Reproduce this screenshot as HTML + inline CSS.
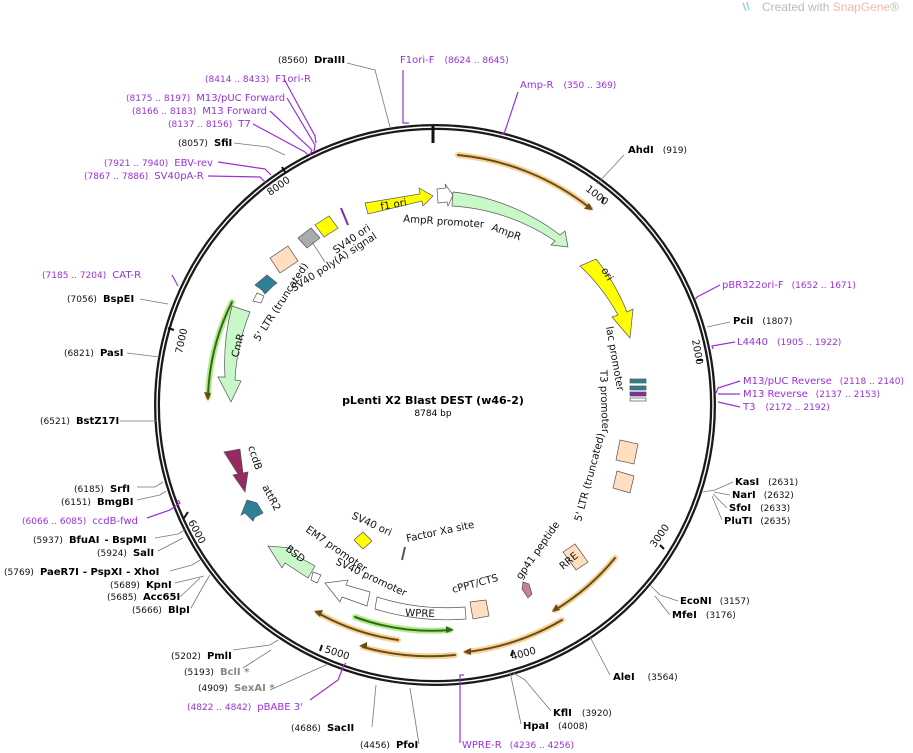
<!DOCTYPE html>
<html><head><meta charset="utf-8"><style>
html,body{margin:0;padding:0;background:#fff;}
svg{display:block;font-family:"DejaVu Sans","Liberation Sans",sans-serif;}
.n{font-size:9px;fill:#111;}
.b{font-size:10px;font-weight:bold;fill:#000;}
.p{font-size:10px;fill:#9b30d9;}
.pn{font-size:9px;fill:#9b30d9;}
.g{font-size:10px;font-weight:bold;fill:#888;}
.f{font-size:10.2px;fill:#111;}
.gl{stroke:#777;stroke-width:0.8;fill:none;}
.pl{stroke:#9b30d9;stroke-width:1.2;fill:none;}
</style></head><body>
<svg width="913" height="753" viewBox="0 0 913 753" xmlns="http://www.w3.org/2000/svg">
<text x="762" y="11" style="font-size:12px;fill:#bbb;font-family:'Liberation Sans',sans-serif">Created with <tspan fill="#f5b8a8">SnapGene</tspan>®</text>
<path d="M743 3 l3 8 M747 2 l2 8" stroke="#9ad4e8" stroke-width="1.5"/>

<circle cx="435" cy="405" r="278" fill="none" stroke="#1a1a1a" stroke-width="6"/>
<circle cx="435" cy="405" r="278" fill="none" stroke="#fff" stroke-width="1.4"/>
<line x1="433" y1="126" x2="433" y2="143" stroke="#111" stroke-width="3"/>

<g class="n" style="font-size:10px">
<line x1="604" y1="197" x2="602" y2="203" stroke="#111" stroke-width="2"/><text transform="translate(585,190) rotate(38)">1000</text>
<line x1="697" y1="360" x2="703" y2="360" stroke="#111" stroke-width="2"/><text transform="translate(692,340) rotate(80)">2000</text>
<line x1="660" y1="545" x2="664" y2="549" stroke="#111" stroke-width="2"/><text transform="translate(655,548) rotate(-55)">3000</text>
<line x1="513" y1="650" x2="511" y2="656" stroke="#111" stroke-width="2"/><text transform="translate(512,660) rotate(-15)">4000</text>
<line x1="322" y1="645" x2="320" y2="651" stroke="#111" stroke-width="2"/><text transform="translate(324,652) rotate(18)">5000</text>
<line x1="188" y1="512" x2="184" y2="518" stroke="#111" stroke-width="2"/><text transform="translate(188,522) rotate(62)">6000</text>
<line x1="174" y1="330" x2="168" y2="328" stroke="#111" stroke-width="2"/><text transform="translate(182,354) rotate(-78)">7000</text>
<line x1="285" y1="172" x2="282" y2="167" stroke="#111" stroke-width="2"/><text transform="translate(270,196) rotate(-35)">8000</text>
</g>

<text x="433" y="404" text-anchor="middle" style="font-size:11px;font-weight:bold">pLenti X2 Blast DEST (w46-2)</text>
<text x="433" y="416" text-anchor="middle" style="font-size:9px">8784 bp</text>

<g fill="none" stroke-linecap="round">
<g stroke="#f5c97a" stroke-width="6" opacity="0.8">
<path d="M458 155 A252 252 0 0 1 590 208"/>
<path d="M615 558 A234 234 0 0 1 555 610"/>
<path d="M562 620 A245 245 0 0 1 467 652"/>
<path d="M455 655 A246 246 0 0 1 363 647"/>
<path d="M398 640 A233 233 0 0 1 318 613"/>
</g>
<g stroke="#6b4a1a" stroke-width="2">
<path d="M458 155 A252 252 0 0 1 590 208"/>
<path d="M615 558 A234 234 0 0 1 555 610"/>
<path d="M562 620 A245 245 0 0 1 467 652"/>
<path d="M455 655 A246 246 0 0 1 363 647"/>
<path d="M398 640 A233 233 0 0 1 318 613"/>
</g>
<path d="M355 617 A221 221 0 0 0 450 630" stroke="#b6eb8c" stroke-width="6"/>
<path d="M355 617 A221 221 0 0 0 450 630" stroke="#2f6b1a" stroke-width="2"/>
<path d="M232 302 A226 226 0 0 0 208 397" stroke="#b6eb8c" stroke-width="6"/>
<path d="M232 302 A226 226 0 0 0 208 397" stroke="#2f6b1a" stroke-width="2"/>
</g>
<g fill="#6b4a1a">
<path d="M593 210 l-9 -1 l5 -6z"/>
<path d="M552 612 l4 -8 l4 6z"/>
<path d="M463 652 l8 -4 l0 7z"/>
<path d="M359 646 l8 -4 l0 7z"/>
<path d="M314 611 l9 -1 l-3 7z"/>
<path d="M208 401 l-4 -9 l7 1z"/>
</g>
<path d="M454 630 l-8 -4 l0 7z" fill="#2f6b1a"/>

<g stroke="#555" stroke-width="0.7">
<path d="M365 203 L420 194 L419 188 L433 196 L423 206 L422 201 L368 214z" fill="#ffff00"/>
<path d="M437 189 L446 188 L445 184 L453 195 L448 206 L447 202 L438 203z" fill="#fff"/>
<path d="M453 192 A215 215 0 0 1 560 235 L565 231 L568 247 L551 245 L555 241 A205 205 0 0 0 452 206z" fill="#c8f7c8"/>
<path d="M596 259 A205 205 0 0 1 627 312 L633 309 L630 338 L612 317 L618 315 A195 195 0 0 0 580 266z" fill="#ffff00"/>
<rect x="630" y="379" width="16" height="4" fill="#2f7f8f"/>
<rect x="630" y="386" width="16" height="4" fill="#2f7f8f"/>
<rect x="630" y="392" width="16" height="4" fill="#7a2fa8"/>
<rect x="630" y="398" width="16" height="3" fill="#fff"/>
<path d="M620 440 l18 4 l-4 20 l-18 -4z" fill="#ffdfc0"/>
<path d="M617 471 l17 5 l-4 17 l-17 -5z" fill="#ffdfc0"/>
<path d="M563 552 l12 -8 l13 18 l-12 8z" fill="#ffdfc0"/>
<path d="M523 582 l6 2 l3 10 l-4 4 l-6 -9z" fill="#c77d9e"/>
<path d="M470 602 l16 -2 l3 16 l-16 3z" fill="#ffdfc0"/>
<path d="M377 597 A230 230 0 0 0 465 607 L466 619 A242 242 0 0 1 375 609z" fill="#fff"/>
<path d="M370 592 L367 606 L342 597 L340 602 L325 583 L348 580 L346 585z" fill="#fff"/>
<path d="M313 572 l8 3 l-4 8 l-6 -3z" fill="#fff"/>
<path d="M315 566 L308 578 L285 563 L282 568 L268 546 L293 548 L290 552z" fill="#c8f7c8"/>
<path d="M247 500 l10 3 l6 10 l-8 4 l-2 4 l-8 -8 l-4 2z" fill="#2e8096"/>
<path d="M224 452 l16 -3 l3 24 l5 -1 l-3 20 l-12 -17 l5 -1z" fill="#962a63"/>
<path d="M354 540 l9 -8 l9 9 l-9 8z" fill="#ffff00"/>
<line x1="405" y1="547" x2="402" y2="560" stroke="#555" stroke-width="2"/>
<path d="M232 306 L250 312 A210 210 0 0 0 235 380 L241 381 L231 402 L218 377 L225 377 A225 225 0 0 1 232 306z" fill="#c8f7c8"/>
<path d="M257 293 l7 3 l-3 7 l-8 -2z" fill="#fff"/>
<path d="M255 285 l12 -10 l10 8 l-4 3 l-8 8 l-3 -4z" fill="#2e8096"/>
<path d="M270 258 l18 -12 l10 15 l-18 12z" fill="#ffdfc0"/>
<path d="M298 238 l13 -10 l9 10 l-13 10z" fill="#a9abb1"/>
<path d="M315 225 l14 -9 l9 12 l-14 9z" fill="#ffff00"/>
<path d="M341 208 l7 17" stroke="#7a2fa8" stroke-width="2"/>
</g>
<g class="f">
<text transform="translate(381,210) rotate(-10)">f1 ori</text>
<text transform="translate(403,222) rotate(4)">AmpR promoter</text>
<text transform="translate(491,230) rotate(20)">AmpR</text>
<text transform="translate(601,270) rotate(60)">ori</text>
<text transform="translate(606,327) rotate(80)">lac promoter</text>
<text transform="translate(600,370) rotate(88)">T3 promoter</text>
<text transform="translate(581,522) rotate(-75)">5' LTR (truncated)</text>
<text transform="translate(563,570) rotate(-40)">RRE</text>
<text transform="translate(521,580) rotate(-55)">gp41 peptide</text>
<text transform="translate(453,593) rotate(-15)">cPPT/CTS</text>
<text transform="translate(405,616) rotate(2)">WPRE</text>
<text transform="translate(335,564) rotate(25)">SV40 promoter</text>
<text transform="translate(305,531) rotate(35)">EM7 promoter</text>
<text transform="translate(285,550) rotate(38)">BSD</text>
<text transform="translate(262,487) rotate(62)">attR2</text>
<text transform="translate(248,447) rotate(72)">ccdB</text>
<text transform="translate(351,518) rotate(25)">SV40 ori</text>
<text transform="translate(407,542) rotate(-12)">Factor Xa site</text>
<text transform="translate(238,358) rotate(-75)">CmR</text>
<text transform="translate(259,342) rotate(-57)">5' LTR (truncated)</text>
<text transform="translate(294,292) rotate(-33)">SV40 poly(A) signal</text>
<text transform="translate(336,254) rotate(-35)">SV40 ori</text>
</g>

<g class="gl">
<path d="M347 63 L375 70 L390 127"/>
<path d="M624 155 L597 184"/>
<path d="M730 322 L707 327"/>
<path d="M733 482 L715 490 L703 492 M730 495 L714 492 M727 508 L713 494 M722 520 L712 496"/>
<path d="M678 601 L660 595 L650 585 M670 615 L655 596"/>
<path d="M610 675 L590 637"/>
<path d="M551 711 L525 680 L512 672 M521 724 L510 672"/>
<path d="M419 744 L410 688"/>
<path d="M372 727 L376 685"/>
<path d="M270 690 L328 664"/>
<path d="M233 650 L270 645 L278 640 M243 668 L271 650"/>
<path d="M191 608 L205 583 L210 575 M180 597 L200 578 M175 583 L204 576 M170 571 L192 565 L200 560"/>
<path d="M158 551 L183 538 M155 538 L178 534 L185 530"/>
<path d="M137 500 L160 495 L166 491 M137 487 L155 487 L163 482"/>
<path d="M120 421 L157 421"/>
<path d="M127 353 L159 357"/>
<path d="M140 299 L168 304"/>
<path d="M234 143 L268 147 L285 155"/>
<path d="M312 242 L325 262"/>
</g>
<g class="pl">
<path d="M403 70 L403 123 L409 123"/>
<path d="M518 92 L504 134 L500 134"/>
<path d="M720 285 L697 297 L695 300"/>
<path d="M735 342 L712 346 L713 349"/>
<path d="M740 381 L718 388 L716 393 M740 394 L718 394 M740 407 L718 402"/>
<path d="M460 743 L460 675 L464 675"/>
<path d="M310 700 L338 680 L344 665 L346 663"/>
<path d="M147 518 L170 510 L180 503 L178 500"/>
<path d="M172 275 L178 286"/>
<path d="M208 176 L260 177 L266 183"/>
<path d="M218 162 L265 169 L271 175"/>
<path d="M253 124 L305 152 L308 155"/>
<path d="M270 111 L312 150 L310 155"/>
<path d="M287 98 L315 145 L314 152"/>
<path d="M284 79 L315 136 L316 143"/>
</g>

<text x="278" y="63"><tspan class="n">(8560)</tspan><tspan class="b" dx="6">DraIII</tspan></text>
<text x="400" y="63"><tspan class="p">F1ori-F</tspan><tspan class="pn" dx="10">(8624 .. 8645)</tspan></text>
<text x="520" y="88"><tspan class="p">Amp-R</tspan><tspan class="pn" dx="10">(350 .. 369)</tspan></text>
<text x="628" y="153"><tspan class="b">AhdI</tspan><tspan class="n" dx="9">(919)</tspan></text>
<text x="722" y="288"><tspan class="p">pBR322ori-F</tspan><tspan class="pn" dx="8">(1652 .. 1671)</tspan></text>
<text x="733" y="324"><tspan class="b">PciI</tspan><tspan class="n" dx="9">(1807)</tspan></text>
<text x="737" y="345"><tspan class="p">L4440</tspan><tspan class="pn" dx="9">(1905 .. 1922)</tspan></text>
<text x="743" y="384"><tspan class="p">M13/pUC Reverse</tspan><tspan class="pn" dx="8">(2118 .. 2140)</tspan></text>
<text x="743" y="397"><tspan class="p">M13 Reverse</tspan><tspan class="pn" dx="8">(2137 .. 2153)</tspan></text>
<text x="743" y="410"><tspan class="p">T3</tspan><tspan class="pn" dx="10">(2172 .. 2192)</tspan></text>
<text x="735" y="485"><tspan class="b">KasI</tspan><tspan class="n" dx="9">(2631)</tspan></text>
<text x="732" y="498"><tspan class="b">NarI</tspan><tspan class="n" dx="8">(2632)</tspan></text>
<text x="729" y="511"><tspan class="b">SfoI</tspan><tspan class="n" dx="9">(2633)</tspan></text>
<text x="724" y="524"><tspan class="b">PluTI</tspan><tspan class="n" dx="8">(2635)</tspan></text>
<text x="680" y="604"><tspan class="b">EcoNI</tspan><tspan class="n" dx="8">(3157)</tspan></text>
<text x="672" y="618"><tspan class="b">MfeI</tspan><tspan class="n" dx="9">(3176)</tspan></text>
<text x="613" y="680"><tspan class="b">AleI</tspan><tspan class="n" dx="13">(3564)</tspan></text>
<text x="553" y="716"><tspan class="b">KflI</tspan><tspan class="n" dx="10">(3920)</tspan></text>
<text x="523" y="729"><tspan class="b">HpaI</tspan><tspan class="n" dx="9">(4008)</tspan></text>
<text x="462" y="748"><tspan class="p">WPRE-R</tspan><tspan class="pn" dx="8">(4236 .. 4256)</tspan></text>
<text x="360" y="748"><tspan class="n">(4456)</tspan><tspan class="b" dx="6">PfoI</tspan></text>
<text x="291" y="731"><tspan class="n">(4686)</tspan><tspan class="b" dx="6">SacII</tspan></text>
<text x="187" y="710"><tspan class="pn">(4822 .. 4842)</tspan><tspan class="p" dx="6">pBABE 3'</tspan></text>
<text x="198" y="691"><tspan class="n">(4909)</tspan><tspan class="g" dx="6">SexAI *</tspan></text>
<text x="184" y="675"><tspan class="n">(5193)</tspan><tspan class="g" dx="6">BclI *</tspan></text>
<text x="171" y="659"><tspan class="n">(5202)</tspan><tspan class="b" dx="6">PmlI</tspan></text>
<text x="132" y="613"><tspan class="n">(5666)</tspan><tspan class="b" dx="6">BlpI</tspan></text>
<text x="107" y="600"><tspan class="n">(5685)</tspan><tspan class="b" dx="6">Acc65I</tspan></text>
<text x="110" y="588"><tspan class="n">(5689)</tspan><tspan class="b" dx="6">KpnI</tspan></text>
<text x="4" y="575"><tspan class="n">(5769)</tspan><tspan class="b" dx="6">PaeR7I</tspan><tspan class="b" dx="4">- PspXI</tspan><tspan class="b" dx="4">- XhoI</tspan></text>
<text x="97" y="556"><tspan class="n">(5924)</tspan><tspan class="b" dx="6">SalI</tspan></text>
<text x="33" y="543"><tspan class="n">(5937)</tspan><tspan class="b" dx="6">BfuAI</tspan><tspan class="b" dx="5">- BspMI</tspan></text>
<text x="22" y="524"><tspan class="pn">(6066 .. 6085)</tspan><tspan class="p" dx="6">ccdB-fwd</tspan></text>
<text x="61" y="505"><tspan class="n">(6151)</tspan><tspan class="b" dx="6">BmgBI</tspan></text>
<text x="74" y="492"><tspan class="n">(6185)</tspan><tspan class="b" dx="6">SrfI</tspan></text>
<text x="40" y="424"><tspan class="n">(6521)</tspan><tspan class="b" dx="6">BstZ17I</tspan></text>
<text x="64" y="356"><tspan class="n">(6821)</tspan><tspan class="b" dx="6">PasI</tspan></text>
<text x="67" y="302"><tspan class="n">(7056)</tspan><tspan class="b" dx="6">BspEI</tspan></text>
<text x="42" y="278"><tspan class="pn">(7185 .. 7204)</tspan><tspan class="p" dx="6">CAT-R</tspan></text>
<text x="84" y="179"><tspan class="pn">(7867 .. 7886)</tspan><tspan class="p" dx="6">SV40pA-R</tspan></text>
<text x="104" y="166"><tspan class="pn">(7921 .. 7940)</tspan><tspan class="p" dx="6">EBV-rev</tspan></text>
<text x="178" y="146"><tspan class="n">(8057)</tspan><tspan class="b" dx="6">SfiI</tspan></text>
<text x="168" y="127"><tspan class="pn">(8137 .. 8156)</tspan><tspan class="p" dx="6">T7</tspan></text>
<text x="132" y="114"><tspan class="pn">(8166 .. 8183)</tspan><tspan class="p" dx="6">M13 Forward</tspan></text>
<text x="126" y="101"><tspan class="pn">(8175 .. 8197)</tspan><tspan class="p" dx="6">M13/pUC Forward</tspan></text>
<text x="205" y="82"><tspan class="pn">(8414 .. 8433)</tspan><tspan class="p" dx="6">F1ori-R</tspan></text>
</svg>
</body></html>
